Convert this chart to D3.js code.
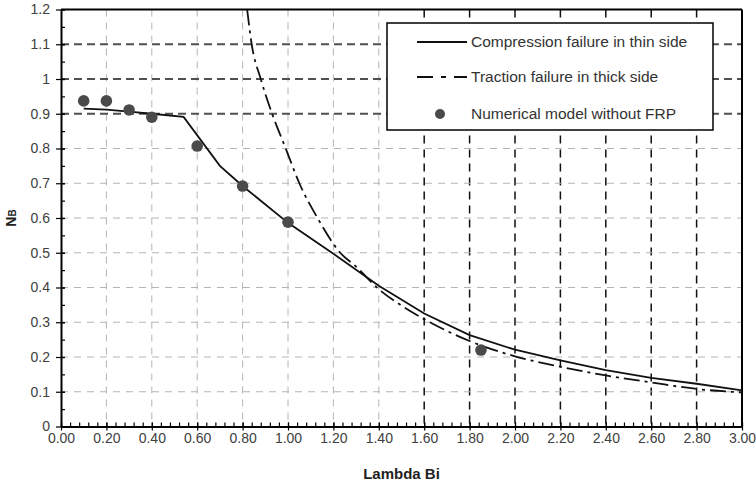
<!DOCTYPE html>
<html><head><meta charset="utf-8">
<script src="https://cdn.jsdelivr.net/npm/d3@7"></script>
<style>
html,body{margin:0;padding:0;background:#fff;}
svg{display:block;font-family:"Liberation Sans",Arial,sans-serif;}
</style></head>
<body><svg id="c" width="756" height="484"></svg>
<script>
// ---- data ----
const compressionX = [0.1, 0.2, 0.3, 0.4, 0.54, 0.7, 0.8, 1.0, 1.2, 1.4, 1.6, 1.8, 2.0, 2.2, 2.4, 2.6, 2.8, 3.0];
const compressionY = [0.915, 0.912, 0.906, 0.9, 0.891, 0.75, 0.692, 0.586, 0.497, 0.405, 0.325, 0.263, 0.221, 0.19, 0.162, 0.14, 0.123, 0.104];
const tractionX = [0.82, 0.84, 0.88, 0.93, 0.99, 1.05, 1.13, 1.23, 1.3, 1.4, 1.5, 1.6, 1.8, 2.0, 2.2, 2.4, 2.6, 2.8, 3.0];
const tractionY = [1.2, 1.1, 1.0, 0.9, 0.8, 0.7, 0.6, 0.5, 0.46, 0.395, 0.348, 0.309, 0.246, 0.202, 0.172, 0.147, 0.127, 0.108, 0.098];
const numericalX = [0.1, 0.2, 0.3, 0.4, 0.6, 0.8, 1.0, 1.85];
const numericalY = [0.937, 0.937, 0.911, 0.89, 0.807, 0.692, 0.588, 0.22];
const xTicks = [0,0.2,0.4,0.6,0.8,1.0,1.2,1.4,1.6,1.8,2.0,2.2,2.4,2.6,2.8,3.0];
const yTicks = [0,0.1,0.2,0.3,0.4,0.5,0.6,0.7,0.8,0.9,1.0,1.1,1.2];
const seriesNames = ["Compression failure in thin side","Traction failure in thick side","Numerical model without FRP"];
const xTitle = "Lambda Bi";

// ---- scales ----
const L = 61, R = 742, T = 9.5, B = 426.5;
const x = d3.scaleLinear().domain([0,3]).range([L,R]);
const y = d3.scaleLinear().domain([0,1.2]).range([B,T]);
const svg = d3.select("#c");
const FONT = "'Liberation Sans',Arial,sans-serif";

// ---- grid ----
const g = svg.append("g");
xTicks.filter(v => v > 0 && v < 3).forEach(v => {
  const dark = v > 1.5;
  g.append("line").attr("x1", x(v)).attr("x2", x(v)).attr("y1", T).attr("y2", B)
    .attr("stroke", dark ? "#111" : "#b4b4b4").attr("stroke-width", dark ? 1.5 : 1)
    .attr("stroke-dasharray", dark ? "8,6" : "7,6");
});
yTicks.filter(v => v > 0 && v < 1.2).forEach(v => {
  const dark = v > 0.85;
  g.append("line").attr("x1", L).attr("x2", R).attr("y1", y(v)).attr("y2", y(v))
    .attr("stroke", dark ? "#505050" : "#b4b4b4").attr("stroke-width", dark ? 2 : 1)
    .attr("stroke-dasharray", dark ? "8,5" : "7,6");
});

// frame top/right
svg.append("line").attr("x1", L).attr("x2", R).attr("y1", T).attr("y2", T).attr("stroke","#000").attr("stroke-width",2);
svg.append("line").attr("x1", R).attr("x2", R).attr("y1", T).attr("y2", B).attr("stroke","#000").attr("stroke-width",2);

// ---- axes ----
const minorY = d3.range(0, 1.2001, 0.05);
const minorX = d3.range(0, 3.0001, 0.04);
svg.append("g").attr("transform",`translate(${L},0)`)
  .call(d3.axisRight(y).tickValues(minorY).tickSize(4).tickFormat(""))
  .call(s => s.select(".domain").remove())
  .selectAll("line").attr("stroke","#000").attr("stroke-width",1.2);
const yAx = svg.append("g").attr("transform",`translate(${L},0)`)
  .call(d3.axisLeft(y).tickValues(yTicks).tickSizeInner(5).tickSizeOuter(0).tickPadding(6)
    .tickFormat(d => d3.format("")(+d.toFixed(1))));
yAx.select(".domain").attr("stroke","#000").attr("stroke-width",2);
yAx.selectAll(".tick line").attr("stroke","#000").attr("stroke-width",1.2).attr("x2",-5).attr("x1",4);
yAx.selectAll("text").attr("fill","#404040").style("font-size","14px").style("font-family",FONT);

svg.append("g").attr("transform",`translate(0,${B})`)
  .call(d3.axisTop(x).tickValues(minorX).tickSize(4).tickFormat(""))
  .call(s => s.select(".domain").remove())
  .selectAll("line").attr("stroke","#000").attr("stroke-width",1.2);
const xAx = svg.append("g").attr("transform",`translate(0,${B})`)
  .call(d3.axisBottom(x).tickValues(xTicks).tickSizeInner(4).tickSizeOuter(0).tickPadding(3)
    .tickFormat(d3.format(".2f")));
xAx.select(".domain").attr("stroke","#000").attr("stroke-width",2);
xAx.selectAll(".tick line").attr("stroke","#000").attr("stroke-width",1.2).attr("y1",-4).attr("y2",4);
xAx.selectAll("text").attr("fill","#404040").style("font-size","14px").style("font-family",FONT);

// titles
svg.append("text").attr("x",(L+R)/2).attr("y",479).attr("text-anchor","middle")
  .attr("font-weight","bold").attr("font-size","15px").attr("fill","#222").text(xTitle);
const yl = svg.append("text").attr("transform",`translate(16,${(T+B)/2}) rotate(-90)`)
  .attr("text-anchor","middle").attr("font-weight","bold").attr("fill","#222");
yl.append("tspan").attr("font-size","14px").text("N");
yl.append("tspan").attr("font-size","10px").text("B");

// ---- series ----
const comp = compressionX.map((v,i)=>[v,compressionY[i]]);
const trac = tractionX.map((v,i)=>[v,tractionY[i]]);
const num = numericalX.map((v,i)=>[v,numericalY[i]]);
svg.append("path").datum(trac)
  .attr("d", d3.line().x(d=>x(d[0])).y(d=>y(d[1])).curve(d3.curveMonotoneX))
  .attr("fill","none").attr("stroke","#111").attr("stroke-width",1.8).attr("stroke-dasharray","16,5,3,5");
svg.append("path").datum(comp)
  .attr("d", d3.line().x(d=>x(d[0])).y(d=>y(d[1])))
  .attr("fill","none").attr("stroke","#111").attr("stroke-width",1.8);
svg.append("g").selectAll("circle").data(num).join("circle")
  .attr("cx",d=>x(d[0])).attr("cy",d=>y(d[1])).attr("r",5.8).attr("fill","#4a4a4a");

// ---- legend ----
const lg = svg.append("g");
lg.append("rect").attr("x",387).attr("y",23).attr("width",326).attr("height",107)
  .attr("fill","#fff").attr("stroke","#000").attr("stroke-width",1.5);
const rows = [42, 77, 114];
lg.append("line").attr("x1",417).attr("x2",467).attr("y1",rows[0]).attr("y2",rows[0]).attr("stroke","#111").attr("stroke-width",1.8);
lg.append("line").attr("x1",417).attr("x2",467).attr("y1",rows[1]).attr("y2",rows[1]).attr("stroke","#111").attr("stroke-width",1.8).attr("stroke-dasharray","16,8,5,8");
lg.append("circle").attr("cx",440).attr("cy",rows[2]).attr("r",5).attr("fill","#4a4a4a");
seriesNames.forEach((s,i)=>{
  lg.append("text").attr("x",471).attr("y",rows[i]).attr("dy","0.35em")
    .attr("font-size","15.5px").attr("fill","#333").text(s);
});
</script></body></html>
